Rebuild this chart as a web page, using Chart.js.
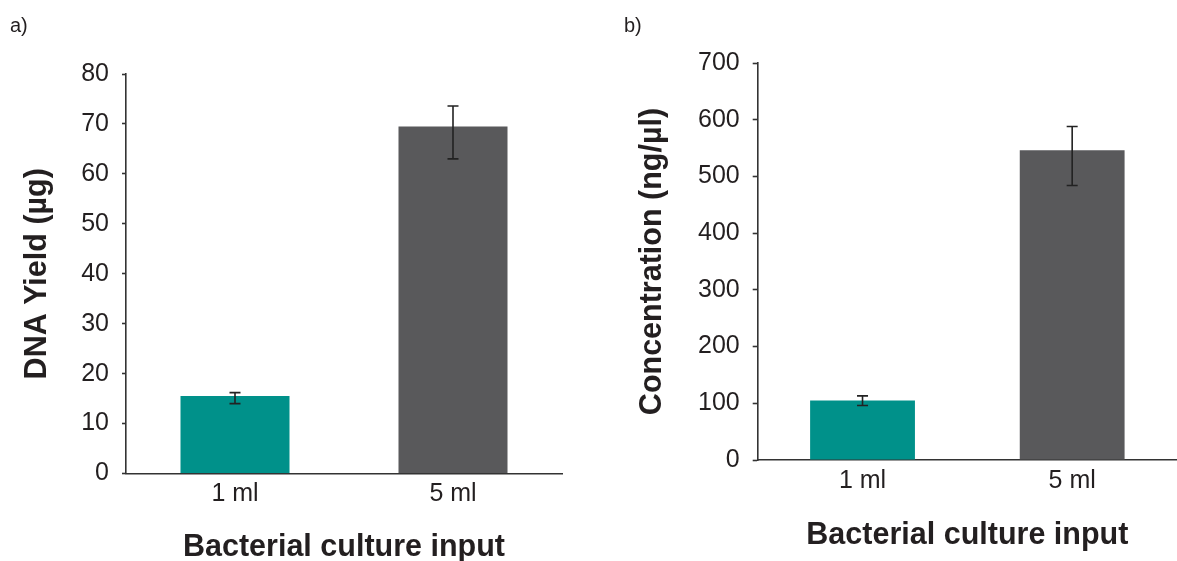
<!DOCTYPE html>
<html>
<head>
<meta charset="utf-8">
<script src="https://cdn.jsdelivr.net/npm/chart.js@4"></script>
<style>
  html, body { margin: 0; padding: 0; background: #ffffff; }
  body { width: 1177px; height: 561px; position: relative; overflow: hidden; font-family: 'Liberation Sans', Arial, sans-serif; }
  .panel { position: absolute; top: 0; height: 561px; }
  #pa { left: 0; width: 590px; }
  #pb { left: 590px; width: 587px; }
  .lbl { position: absolute; font-size: 20px; line-height: 20px; color: #231f20; }
</style>
</head>
<body>
<div class="panel" id="pa"><canvas id="chartA" width="590" height="561"></canvas></div>
<div class="panel" id="pb"><canvas id="chartB" width="587" height="561"></canvas></div>
<div class="lbl" style="left:10px; top:15px;">a)</div>
<div class="lbl" style="left:624px; top:15px;">b)</div>
<script>
// ---- data ----
const categories = ['1 ml', '5 ml'];
const yieldValues = [15.5, 69.5];
const yieldErrLow = [14.0, 63.0];
const yieldErrHigh = [16.2, 73.6];
const concValues = [105, 546];
const concErrLow = [96, 484];
const concErrHigh = [113, 588];
const yieldTicks = [0, 10, 20, 30, 40, 50, 60, 70, 80];
const concTicks = [0, 100, 200, 300, 400, 500, 600, 700];
const barColors = ['#00918A', '#59595B'];
const xTitle = 'Bacterial culture input';
const yTitleA = 'DNA Yield (µg)';
const yTitleB = 'Concentration (ng/µl)';

const FONT = "'Liberation Sans', Arial, sans-serif";
const TEXT = '#231f20';
const AXIS = '#333333';

const errorBarPlugin = {
  id: 'errorBars',
  afterDatasetsDraw(chart, args, opts) {
    const ctx = chart.ctx;
    const xs = chart.scales.x, ys = chart.scales.y;
    ctx.save();
    ctx.strokeStyle = '#222222';
    ctx.lineWidth = 1.6;
    opts.low.forEach((lo, i) => {
      const x = xs.getPixelForValue(i);
      const yl = ys.getPixelForValue(lo);
      const yh = ys.getPixelForValue(opts.high[i]);
      const cap = 5.5;
      ctx.beginPath();
      ctx.moveTo(x, yl); ctx.lineTo(x, yh);
      ctx.moveTo(x - cap, yl); ctx.lineTo(x + cap, yl);
      ctx.moveTo(x - cap, yh); ctx.lineTo(x + cap, yh);
      ctx.stroke();
    });
    ctx.restore();
  }
};

function makeChart(id, cfg) {
  return new Chart(document.getElementById(id), {
    type: 'bar',
    data: {
      labels: categories,
      datasets: [{
        data: cfg.values,
        backgroundColor: barColors,
        borderWidth: 0,
        categoryPercentage: 0.5,
        barPercentage: 1.0
      }]
    },
    options: {
      responsive: false,
      animation: false,
      devicePixelRatio: 1,
      layout: { padding: { left: 0, right: cfg.padRight, top: cfg.padTop, bottom: 0 } },
      plugins: {
        legend: { display: false },
        tooltip: { enabled: false },
        errorBars: { low: cfg.low, high: cfg.high }
      },
      scales: {
        x: {
          grid: { display: false, drawTicks: false, tickLength: 0 },
          border: { display: true, color: AXIS, width: 1.6 },
          ticks: { color: TEXT, font: { family: FONT, size: 25, lineHeight: 1 }, padding: cfg.xTickPad },
          title: {
            display: true, text: xTitle, color: TEXT,
            font: { family: FONT, size: 30.5, weight: 'bold', lineHeight: 1 },
            padding: { top: 0, bottom: cfg.xTitlePadBottom }
          },
          afterFit(scale) { scale.height = cfg.xHeight; }
        },
        y: {
          min: cfg.ticks[0],
          max: cfg.ticks[cfg.ticks.length - 1],
          afterBuildTicks(scale) { scale.ticks = cfg.ticks.map(v => ({ value: v })); },
          grid: { display: true, drawOnChartArea: false, drawTicks: true, tickLength: cfg.tickLen, tickColor: AXIS, tickWidth: 1.6 },
          border: { display: true, color: AXIS, width: 1.6 },
          ticks: { color: TEXT, font: { family: FONT, size: 25 }, padding: 13 },
          title: {
            display: true, text: cfg.yTitle, color: TEXT,
            font: { family: FONT, size: 30.5, weight: 'bold', lineHeight: 1 },
            padding: { top: cfg.yTitlePadTop, bottom: 0 }
          },
          afterFit(scale) { scale.width = cfg.yWidth; }
        }
      }
    },
    plugins: [errorBarPlugin]
  });
}

makeChart('chartA', {
  values: yieldValues, low: yieldErrLow, high: yieldErrHigh, ticks: yieldTicks, yTitle: yTitleA,
  padRight: 28, padTop: 74, xHeight: 87.5, xTickPad: 8, xTitlePadBottom: -1.5,
  yWidth: 126, yTitlePadTop: 22.5, tickLen: 4
});
makeChart('chartB', {
  values: concValues, low: concErrLow, high: concErrHigh, ticks: concTicks, yTitle: yTitleB,
  padRight: 0, padTop: 63, xHeight: 101, xTickPad: 9, xTitlePadBottom: 10,
  yWidth: 167.7, yTitlePadTop: 47, tickLen: 5
});
</script>
</body>
</html>
